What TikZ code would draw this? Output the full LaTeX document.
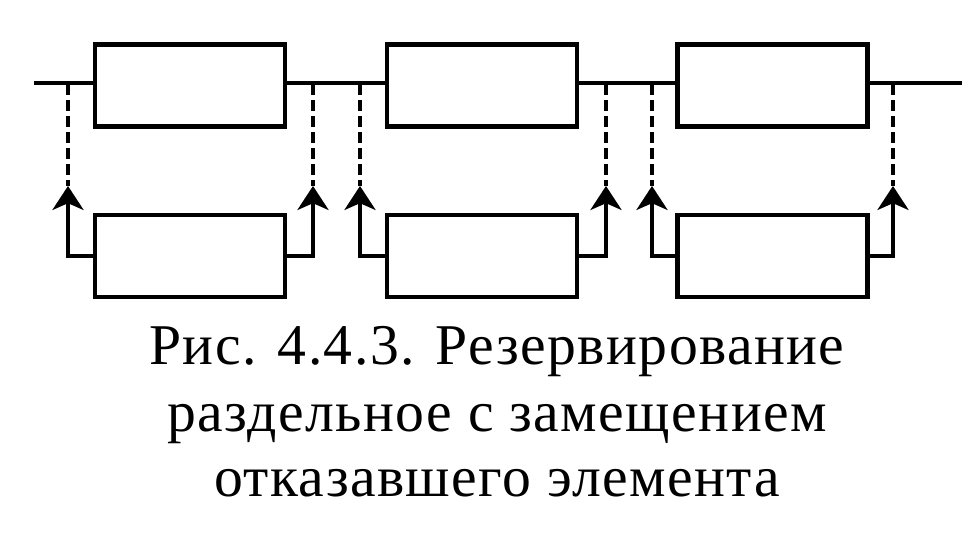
\documentclass[tikz,border=0pt]{standalone}
\usepackage{fontspec}
\setmainfont{Liberation Serif}
\newfontfamily\capfont[LetterSpace=2.5]{Liberation Serif}
\usetikzlibrary{arrows.meta}

\tikzset{
  unitbox/.style={draw, line width=2.9pt, minimum width=4.75cm, minimum height=2.05cm, inner sep=0pt},
  wire/.style={line width=2.3pt},
  feed/.style={line width=2.3pt, -{Stealth[length=0.6cm, width=0.78cm, inset=0.17cm]}},
  switchline/.style={line width=2.6pt, dash pattern=on 0.28cm off 0.12cm},
  caption/.style={anchor=base, font=\capfont\fontsize{41}{47}\selectfont}
}

\begin{document}
\begin{tikzpicture}[x=0.025cm, y=-0.025cm]
    \useasboundingbox (0,0) rectangle (974,536);

    % Main chain of elements
    \node[unitbox] (main1) at (190,85.5) {};
    \node[unitbox] (main2) at (482,85.5) {};
    \node[unitbox] (main3) at (772.5,85.5) {};

    % Reserve elements (one per main element)
    \node[unitbox] (res1) at (190,256) {};
    \node[unitbox] (res2) at (482,256) {};
    \node[unitbox] (res3) at (772.5,256) {};

    % Line through the chain
    \coordinate (inp) at (34,83);
    \coordinate (outp) at (962,83);
    \draw[wire] (inp) -- (main1.west |- inp);
    \draw[wire] (main1.east |- inp) -- (main2.west |- inp);
    \draw[wire] (main2.east |- inp) -- (main3.west |- inp);
    \draw[wire] (main3.east |- inp) -- (outp);

    % Taps on the line (where the reserve is switched in)
    \coordinate (tapL1) at (68,84);   \coordinate (tapR1) at (313,84);
    \coordinate (tapL2) at (360,84);  \coordinate (tapR2) at (606,84);
    \coordinate (tapL3) at (652,84);  \coordinate (tapR3) at (893,84);

    % Arrow tips of the reserve leads
    \coordinate (tipL1) at (68,186);  \coordinate (tipR1) at (313,186);
    \coordinate (tipL2) at (360,186); \coordinate (tipR2) at (606,186);
    \coordinate (tipL3) at (652,186); \coordinate (tipR3) at (893,186);

    % Reserve leads
    \draw[feed] (res1.west) -| (tipL1);
    \draw[feed] (res1.east) -| (tipR1);
    \draw[feed] (res2.west) -| (tipL2);
    \draw[feed] (res2.east) -| (tipR2);
    \draw[feed] (res3.west) -| (tipL3);
    \draw[feed] (res3.east) -| (tipR3);

    % Switching (dashed)
    \draw[switchline] (tapL1) -- (tipL1);
    \draw[switchline] (tapR1) -- (tipR1);
    \draw[switchline] (tapL2) -- (tipL2);
    \draw[switchline] (tapR2) -- (tipR2);
    \draw[switchline] (tapL3) -- (tipL3);
    \draw[switchline] (tapR3) -- (tipR3);

    % Caption
    \node[caption] (cap1) at (497,365) {Рис. 4.4.3. Резервирование};
    \node[caption] (cap2) at (497,432) {раздельное с замещением};
    \node[caption] (cap3) at (497,497) {отказавшего элемента};

\end{tikzpicture}
\end{document}
